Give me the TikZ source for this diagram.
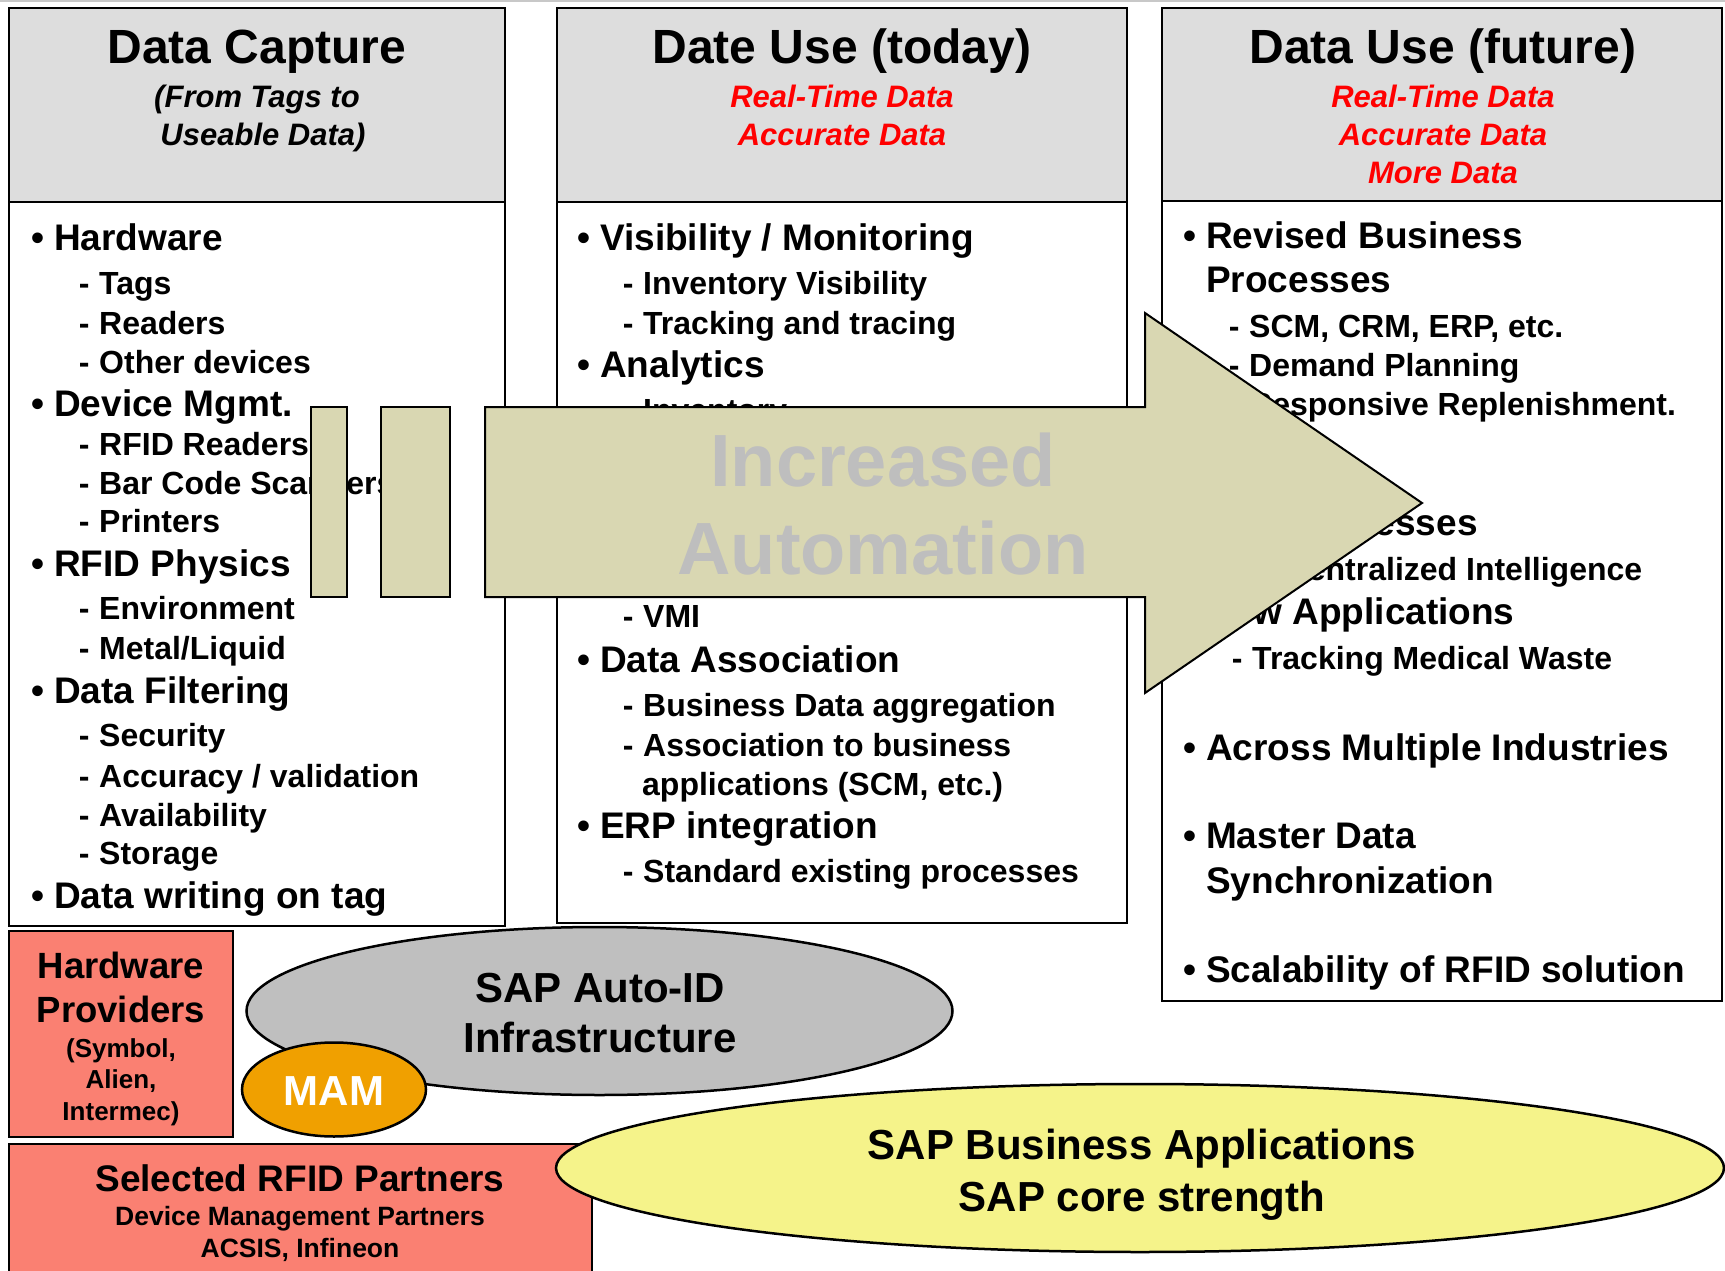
\documentclass[tikz,border=0pt]{standalone}
\usepackage{fontspec}
\setmainfont{Liberation Sans}
\usetikzlibrary{shapes.geometric}
\definecolor{hdr}{RGB}{221,221,221}
\definecolor{arrowc}{RGB}{217,215,178}
\definecolor{salmonc}{RGB}{250,128,114}
\definecolor{ellgray}{RGB}{191,191,191}
\definecolor{mamor}{RGB}{240,160,0}
\definecolor{yell}{RGB}{245,243,138}
\definecolor{autogray}{RGB}{190,190,190}
\definecolor{topline}{RGB}{200,200,200}
\newcommand{\bl}{\llap{•\hspace{0.26em}}}
\newcommand{\ds}{\llap{-\hspace{0.3em}}}
\begin{document}
\begin{tikzpicture}[x=1pt,y=-1pt,
  colbox/.style={draw=black,line width=2.5pt},
  lone/.style={anchor=west,inner sep=0pt,font=\fontsize{37}{44}\selectfont\bfseries,text height=26.5pt,text depth=0pt},
  ltwo/.style={anchor=west,inner sep=0pt,font=\fontsize{32}{38}\selectfont\bfseries,text height=22.9pt,text depth=0pt},
  htitle/.style={anchor=center,inner sep=0pt,font=\fontsize{48}{56}\selectfont\bfseries,text height=34.4pt,text depth=0pt},
  hsub/.style={anchor=center,inner sep=0pt,font=\fontsize{31}{37}\selectfont\bfseries\itshape,text height=22.2pt,text depth=0pt},
  hred/.style={hsub,text=red},
  ctext/.style={anchor=center,inner sep=0pt,font=\fontsize{#1}{#1}\selectfont\bfseries,text height=0.716*#1pt,text depth=0pt},
  oval/.style={draw=black,line width=2.5pt,ellipse,inner sep=0pt}
]
\useasboundingbox (0,0) rectangle (1725,1271);
\fill[white] (0,0) rectangle (1725,1271);
\draw[topline,line width=1.5pt] (0,1) -- (1725,1);

% ---------- columns ----------
\draw[colbox,fill=white] (9,202) rectangle (505,926);
\draw[colbox,fill=hdr] (9,8) rectangle (505,202);
\draw[colbox,fill=white] (557,202) rectangle (1127,923);
\draw[colbox,fill=hdr] (557,8) rectangle (1127,202);
\draw[colbox,fill=white] (1162,201) rectangle (1722,1001);
\draw[colbox,fill=hdr] (1162,8) rectangle (1722,201);

% headers
\node[htitle] (h1) at (257,46) {Data Capture};
\node[hsub] (h1a) at (257,96) {(From Tags to};
\node[hsub] (h1b) at (263,134) {Useable Data)};
\node[htitle] (h2) at (842,46) {Date Use (today)};
\node[hred] (h2a) at (842,96) {Real-Time Data};
\node[hred] (h2b) at (842,134) {Accurate Data};
\node[htitle] (h3) at (1443,46) {Data Use (future)};
\node[hred] (h3a) at (1443,96) {Real-Time Data};
\node[hred] (h3b) at (1443,134) {Accurate Data};
\node[hred] (h3c) at (1443,172) {More Data};

% left column
\node[lone] (a1) at (54,237) {\bl Hardware};
\node[ltwo] (a2) at (99,283) {\ds Tags};
\node[ltwo] (a3) at (99,323) {\ds Readers};
\node[ltwo] (a4) at (99,362) {\ds Other devices};
\node[lone] (a5) at (54,403) {\bl Device Mgmt.};
\node[ltwo] (a6) at (99,444) {\ds RFID Readers};
\node[ltwo] (a7) at (99,483) {\ds Bar Code Scanners};
\node[ltwo] (a8) at (99,521) {\ds Printers};
\node[lone] (a9) at (54,563) {\bl RFID Physics};
\node[ltwo] (a10) at (99,608) {\ds Environment};
\node[ltwo] (a11) at (99,648) {\ds Metal/Liquid};
\node[lone] (a12) at (54,690) {\bl Data Filtering};
\node[ltwo] (a13) at (99,735) {\ds Security};
\node[ltwo] (a14) at (99,776) {\ds Accuracy / validation};
\node[ltwo] (a15) at (99,815) {\ds Availability};
\node[ltwo] (a16) at (99,853) {\ds Storage};
\node[lone] (a17) at (54,895) {\bl Data writing on tag};

% middle column
\node[lone] (b1) at (600,237) {\bl Visibility / Monitoring};
\node[ltwo] (b2) at (643,283) {\ds Inventory Visibility};
\node[ltwo] (b3) at (643,323) {\ds Tracking and tracing};
\node[lone] (b4) at (600,364) {\bl Analytics};
\node[ltwo] (b5) at (643,410) {\ds Inventory};
\node[ltwo] (b6) at (643,616) {\ds VMI};
\node[lone] (b7) at (600,659) {\bl Data Association};
\node[ltwo] (b8) at (643,705) {\ds Business Data aggregation};
\node[ltwo] (b9) at (643,745) {\ds Association to business};
\node[ltwo] (b10) at (642,784) {applications (SCM, etc.)};
\node[lone] (b11) at (600,825) {\bl ERP integration};
\node[ltwo] (b12) at (643,871) {\ds Standard existing processes};

% right column
\node[lone] (c1) at (1206,235) {\bl Revised Business};
\node[lone] (c2) at (1206,279) {Processes};
\node[ltwo] (c3) at (1249,326) {\ds SCM, CRM, ERP, etc.};
\node[ltwo] (c4) at (1249,365) {\ds Demand Planning};
\node[ltwo] (c5) at (1249,404) {\ds Responsive Replenishment.};
\node[lone] (c6) at (1206,522) {\bl New Processes};
\node[ltwo] (c7) at (1249,569) {\ds Decentralized Intelligence};
\node[lone] (c8) at (1206,611) {\bl New Applications};
\node[ltwo] (c9) at (1252,658) {\ds Tracking Medical Waste};
\node[lone] (c10) at (1206,747) {\bl Across Multiple Industries};
\node[lone] (c11) at (1206,835) {\bl Master Data};
\node[lone] (c12) at (1206,880) {Synchronization};
\node[lone] (c13) at (1206,969) {\bl Scalability of RFID solution};

% ---------- arrow ----------
\draw[fill=arrowc,draw=black,line width=2pt] (311,407) rectangle (347,597);
\draw[fill=arrowc,draw=black,line width=2pt] (381,407) rectangle (450,597);
\draw[fill=arrowc,draw=black,line width=2pt,line join=miter]
  (485,407) -- (1145,407) -- (1145,313) -- (1422,503) -- (1145,693) -- (1145,597) -- (485,597) -- cycle;
\node[ctext=74,text=autogray] (inc) at (883,460) {Increased};
\node[ctext=74,text=autogray] (aut) at (883,548) {Automation};

% ---------- bottom ----------
\draw[colbox,fill=salmonc] (9,931) rectangle (233,1137);
\node[ctext=36.5] (hp1) at (121,965) {Hardware};
\node[ctext=36.5] (hp2) at (121,1009) {Providers};
\node[ctext=26] (hp3) at (121,1048) {(Symbol,};
\node[ctext=26] (hp4) at (121,1079) {Alien,};
\node[ctext=26] (hp5) at (121,1111) {Intermec)};

\draw[colbox,fill=salmonc] (9,1144) rectangle (592,1290);
\node[ctext=37] (sp1) at (300,1178) {Selected RFID Partners};
\node[ctext=26.5] (sp2) at (300,1216) {Device Management Partners};
\node[ctext=26.5] (sp3) at (300,1248) {ACSIS, Infineon};

\node[oval,fill=ellgray,minimum width=706pt,minimum height=168pt] (auto) at (599.5,1011) {};
\node[ctext=42] (au1) at (600,987) {SAP Auto-ID};
\node[ctext=42] (au2) at (600,1037) {Infrastructure};

\node[oval,fill=mamor,minimum width=184pt,minimum height=94pt] (mam) at (334,1089.5) {};
\node[ctext=42,text=white] (mamt) at (334,1090) {MAM};

\node[oval,fill=yell,minimum width=1168pt,minimum height=168pt] (sapb) at (1140,1168) {};
\node[ctext=42] (sb1) at (1142,1144) {SAP Business Applications};
\node[ctext=42] (sb2) at (1142,1196) {SAP core strength};
\end{tikzpicture}
\end{document}
